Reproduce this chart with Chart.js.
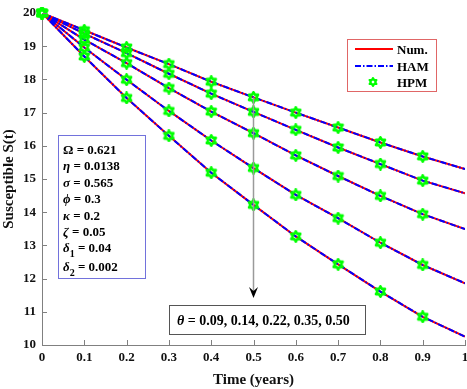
<!DOCTYPE html>
<html>
<head>
<meta charset="utf-8">
<script src="https://cdn.jsdelivr.net/npm/chart.js@4.4.1/dist/chart.umd.min.js"></script>
<style>
  body { margin: 0; background: #fff; }
  #wrap { width: 467px; height: 389px; }
</style>
</head>
<body>
<div id="wrap"><canvas id="susChart" width="467" height="389"></canvas></div>
<script>
// data
const times = [0, 0.1, 0.2, 0.3, 0.4, 0.5, 0.6, 0.7, 0.8, 0.9, 1.0];
const thetaLabels = ['0.09', '0.14', '0.22', '0.35', '0.50'];
const sTheta1 = [20, 19.48, 18.96, 18.46, 17.93, 17.46, 17.00, 16.55, 16.10, 15.68, 15.30];
const sTheta2 = [20, 19.38, 18.79, 18.17, 17.57, 17.02, 16.48, 15.95, 15.45, 14.95, 14.57];
const sTheta3 = [20, 19.20, 18.49, 17.74, 17.03, 16.38, 15.71, 15.09, 14.49, 13.94, 13.49];
const sTheta4 = [20, 18.96, 17.99, 17.05, 16.16, 15.33, 14.52, 13.82, 13.08, 12.41, 11.86];
const sTheta5 = [20, 18.69, 17.44, 16.30, 15.19, 14.22, 13.27, 12.43, 11.61, 10.85, 10.25];
const allSeries = [sTheta1, sTheta2, sTheta3, sTheta4, sTheta5];
const yTicks = [10, 11, 12, 13, 14, 15, 16, 17, 18, 19, 20];
const paramLines = [
  ['Ω', '', ' = 0.621', false],
  ['η', '', ' = 0.0138', true],
  ['σ', '', ' = 0.565', true],
  ['ϕ', '', ' = 0.3', true],
  ['κ', '', ' = 0.2', true],
  ['ζ', '', ' = 0.05', true],
  ['δ', '1', ' = 0.04', true],
  ['δ', '2', ' = 0.002', true]
];

const SERIF = '"Liberation Serif", "Times New Roman", serif';

// hexagram marker like matlab 'h'
function makeHexagram(size, lw) {
  const c = document.createElement('canvas');
  c.width = size; c.height = size;
  const g = c.getContext('2d');
  const R = size / 2 - lw / 2, r = R / Math.sqrt(3);
  g.beginPath();
  for (let i = 0; i < 12; i++) {
    const a = -Math.PI / 2 + i * Math.PI / 6;
    const rad = i % 2 === 0 ? R : r;
    const px = size / 2 + rad * Math.cos(a), py = size / 2 + rad * Math.sin(a);
    if (i === 0) g.moveTo(px, py); else g.lineTo(px, py);
  }
  g.closePath();
  g.strokeStyle = '#00ff00';
  g.lineWidth = lw;
  g.lineJoin = 'round';
  g.stroke();
  return c;
}
const hexMarker = makeHexagram(13, 2.6);
const hexLegend = makeHexagram(10, 2.2);

const datasets = [];
allSeries.forEach((s, i) => {
  const pts = times.map((t, j) => ({ x: t, y: s[j] }));
  datasets.push({
    label: 'HPM θ=' + thetaLabels[i],
    data: pts.slice(0, 10),
    showLine: false,
    pointStyle: hexMarker,
    pointRadius: 6,
    clip: false,
    order: 0
  });
  datasets.push({
    label: 'HAM θ=' + thetaLabels[i],
    data: pts,
    borderColor: '#0000ff',
    borderWidth: 2,
    borderDash: [6, 2, 1.5, 2],
    pointRadius: 0,
    order: 1
  });
  datasets.push({
    label: 'Num. θ=' + thetaLabels[i],
    data: pts,
    borderColor: '#ff0000',
    borderWidth: 2,
    pointRadius: 0,
    order: 2
  });
});

const extras = {
  id: 'extras',
  afterDraw(chart) {
    const { ctx } = chart;
    const x = chart.scales.x, y = chart.scales.y;
    const bottom = y.getPixelForValue(10), left = x.getPixelForValue(0);
    ctx.save();
    // inward ticks
    ctx.strokeStyle = '#808080';
    ctx.lineWidth = 1;
    ctx.beginPath();
    x.ticks.forEach(t => {
      const px = Math.round(x.getPixelForValue(t.value)) + 0.5;
      ctx.moveTo(px, bottom); ctx.lineTo(px, bottom - 5);
    });
    y.ticks.forEach(t => {
      const py = Math.round(y.getPixelForValue(t.value)) + 0.5;
      ctx.moveTo(left, py); ctx.lineTo(left + 5, py);
    });
    ctx.stroke();

    // arrow at t = 0.5
    const ax = x.getPixelForValue(0.5);
    const ay0 = y.getPixelForValue(sTheta1[5]);
    const tip = 298;
    ctx.strokeStyle = '#9a9a9a';
    ctx.lineWidth = 1.5;
    ctx.beginPath();
    ctx.moveTo(ax, ay0); ctx.lineTo(ax, tip - 6);
    ctx.stroke();
    ctx.fillStyle = '#000';
    ctx.beginPath();
    ctx.moveTo(ax, tip);
    ctx.lineTo(ax - 4.5, tip - 11);
    ctx.lineTo(ax, tip - 7);
    ctx.lineTo(ax + 4.5, tip - 11);
    ctx.closePath();
    ctx.fill();

    // theta box
    ctx.fillStyle = '#fff';
    ctx.fillRect(169, 305, 196, 29);
    ctx.strokeStyle = '#555';
    ctx.lineWidth = 1;
    ctx.strokeRect(169.5, 305.5, 196, 29);
    ctx.fillStyle = '#000';
    ctx.textBaseline = 'alphabetic';
    ctx.font = 'italic bold 14px ' + SERIF;
    ctx.fillText('θ', 177, 325);
    const tw = ctx.measureText('θ').width;
    ctx.font = 'bold 14px ' + SERIF;
    ctx.fillText(' = ' + thetaLabels.join(', '), 177 + tw, 325);

    // parameter box
    ctx.fillStyle = '#fff';
    ctx.fillRect(58, 135, 87, 143);
    ctx.strokeStyle = '#7272dc';
    ctx.strokeRect(58.5, 135.5, 87, 143);
    ctx.fillStyle = '#000';
    paramLines.forEach((p, i) => {
      const by = 154 + i * 16.4 + (i >= 7 ? 2 : 0);
      let cx = 63;
      ctx.font = (p[3] ? 'italic ' : '') + 'bold 13px ' + SERIF;
      ctx.fillText(p[0], cx, by);
      cx += ctx.measureText(p[0]).width;
      if (p[1]) {
        ctx.font = 'bold 10px ' + SERIF;
        ctx.fillText(p[1], cx, by + 5);
        cx += ctx.measureText(p[1]).width;
      }
      ctx.font = 'bold 13px ' + SERIF;
      ctx.fillText(p[2], cx, by);
    });

    // legend
    ctx.fillStyle = '#fff';
    ctx.fillRect(347, 39, 89, 52);
    ctx.strokeStyle = '#e06666';
    ctx.lineWidth = 1;
    ctx.strokeRect(347.5, 39.5, 89, 52);
    ctx.lineWidth = 2;
    ctx.strokeStyle = '#ff0000';
    ctx.beginPath(); ctx.moveTo(355, 49); ctx.lineTo(393, 49); ctx.stroke();
    ctx.strokeStyle = '#0000ff';
    ctx.setLineDash([6, 2, 1.5, 2]);
    ctx.beginPath(); ctx.moveTo(355, 66); ctx.lineTo(393, 66); ctx.stroke();
    ctx.setLineDash([]);
    ctx.drawImage(hexLegend, 373 - 5, 82 - 5);
    ctx.fillStyle = '#000';
    ctx.font = 'bold 13px ' + SERIF;
    ctx.fillText('Num.', 397, 53.5);
    ctx.fillText('HAM', 397, 70.5);
    ctx.fillText('HPM', 397, 86.5);
    ctx.restore();
  }
};

new Chart(document.getElementById('susChart'), {
  type: 'line',
  data: { datasets: datasets },
  options: {
    responsive: false,
    animation: false,
    events: [],
    layout: { autoPadding: false, padding: { top: 13, right: 2, left: 0, bottom: 0 } },
    plugins: { legend: { display: false }, tooltip: { enabled: false } },
    scales: {
      x: {
        type: 'linear',
        min: 0, max: 1,
        afterFit: s => { s.height = 44; s.paddingRight = 0; s.paddingLeft = 0; },
        afterBuildTicks: s => { s.ticks = times.map(v => ({ value: v })); },
        ticks: {
          color: '#111',
          padding: 5,
          maxRotation: 0,
          font: { family: SERIF, size: 13, weight: 'bold' },
          callback: v => (v === 0 || v === 1) ? String(v) : v.toFixed(1)
        },
        grid: { drawOnChartArea: false, drawTicks: false },
        border: { color: '#808080' },
        title: { display: true, text: 'Time (years)', color: '#111', padding: { top: 2, bottom: 0 },
                 font: { family: SERIF, size: 15, weight: 'bold' } }
      },
      y: {
        min: 10, max: 20,
        afterFit: s => { s.width = 42; s.paddingTop = 0; s.paddingBottom = 0; },
        afterBuildTicks: s => { s.ticks = yTicks.map(v => ({ value: v })); },
        ticks: {
          color: '#111',
          padding: 6,
          font: { family: SERIF, size: 13, weight: 'bold' }
        },
        grid: { drawOnChartArea: false, drawTicks: false },
        border: { color: '#808080' },
        title: { display: true, text: 'Susceptible S(t)', color: '#111', padding: { top: 0, bottom: 2 },
                 font: { family: SERIF, size: 15, weight: 'bold' } }
      }
    }
  },
  plugins: [extras]
});
</script>
</body>
</html>
